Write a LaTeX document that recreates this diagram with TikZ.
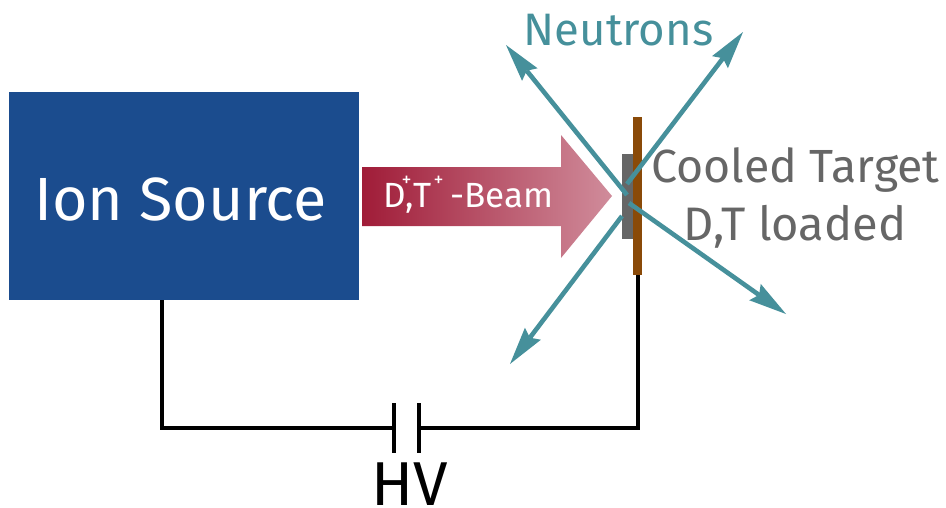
\documentclass[tikz,border=0pt]{standalone}
\usepackage{fontspec}
\setmainfont{Fira Sans}[Scale=1]
\usetikzlibrary{arrows.meta}
\definecolor{srcblue}{HTML}{1B4C8E}
\definecolor{teal1}{HTML}{46909B}
\definecolor{greytxt}{HTML}{666666}
\definecolor{plategrey}{HTML}{666666}
\definecolor{platebrown}{HTML}{8A4A08}
\definecolor{beamL}{HTML}{A01C38}
\definecolor{beamR}{HTML}{D08C9B}
\tikzset{
  block/.style={draw=none,fill=#1,inner sep=0pt,outer sep=0pt,anchor=north west},
  wire/.style={draw=black,line width=3.4pt,line cap=butt,line join=miter},
  neutron/.style={draw=teal1,line width=4.6pt,-{Stealth[length=38pt,width=20pt,inset=5pt,line width=0pt,fill=teal1]}},
  lbl/.style={inner sep=0pt,outer sep=0pt,anchor=base},
}
\newcommand{\fs}[1]{\fontsize{#1}{#1}\selectfont}
\newcommand{\at}[2]{\rlap{\kern#1pt #2}}
\begin{document}
\begin{tikzpicture}[x=1pt,y=-1pt]
\useasboundingbox (0,0) rectangle (946,507);
% ion source
\node[block=srcblue,minimum width=350pt,minimum height=208pt] (src) at (9,92) {};
\node[lbl,text=white] (srctxt) at (180.5,220) {\fs{61}Ion Source};
% beam
\path[left color=beamL,right color=beamR] (362,167) -- (561,167) -- (561,135) -- (612,196) -- (561,258) -- (561,226) -- (362,226) -- cycle;
\node[lbl,text=white,anchor=base west] (beamtxt) at (383,207) {\fs{35}\at{0}{D}\at{18}{\raisebox{21pt}{\fs{20}+}}\at{22}{,}\at{30}{T}\at{50}{\raisebox{21pt}{\fs{20}+}}\at{67}{-Beam}};
% target
\node[block=plategrey,minimum width=12pt,minimum height=85pt] (gray) at (622,154) {};
% wires
\coordinate (capL) at (394,428);
\coordinate (capR) at (419,428);
\coordinate (capLt) at (394,403);
\coordinate (capLb) at (394,453);
\coordinate (capRt) at (419,403);
\coordinate (capRb) at (419,453);
\coordinate (srcw) at (162,300);
\coordinate (tgtw) at (638,275);
\draw[wire] (srcw) -- (162,428) -- (capL);
\draw[wire] (tgtw) -- (638,428) -- (capR);
\draw[wire] (capLt) -- (capLb);
\draw[wire] (capRt) -- (capRb);
% neutron arrows
\coordinate (nwS) at (627,195);
\coordinate (nwT) at (506,45);
\coordinate (swS) at (622,216);
\coordinate (swT) at (510,364);
\draw[neutron] (swS) -- (swT);
\node[block=platebrown,minimum width=9pt,minimum height=158pt] (brown) at (633,117) {};
\coordinate (neS) at (627,184);
\coordinate (neT) at (743,32);
\coordinate (seS) at (629,203);
\coordinate (seT) at (786,314);
\draw[neutron] (nwS) -- (nwT);
\draw[neutron] (neS) -- (neT);
\draw[neutron] (seS) -- (seT);
% labels
\node[lbl,text=teal1] (ntxt) at (618.5,45) {\fs{45.5}Neutrons};
\node[lbl,text=greytxt] (t1) at (795.5,182) {\fs{46.5}Cooled Target};
\node[lbl,text=greytxt] (t2) at (795,240) {\fs{47}D,T loaded};
\node[lbl,text=black] (hv) at (409.5,505) {\fs{62}HV};
\end{tikzpicture}
\end{document}
